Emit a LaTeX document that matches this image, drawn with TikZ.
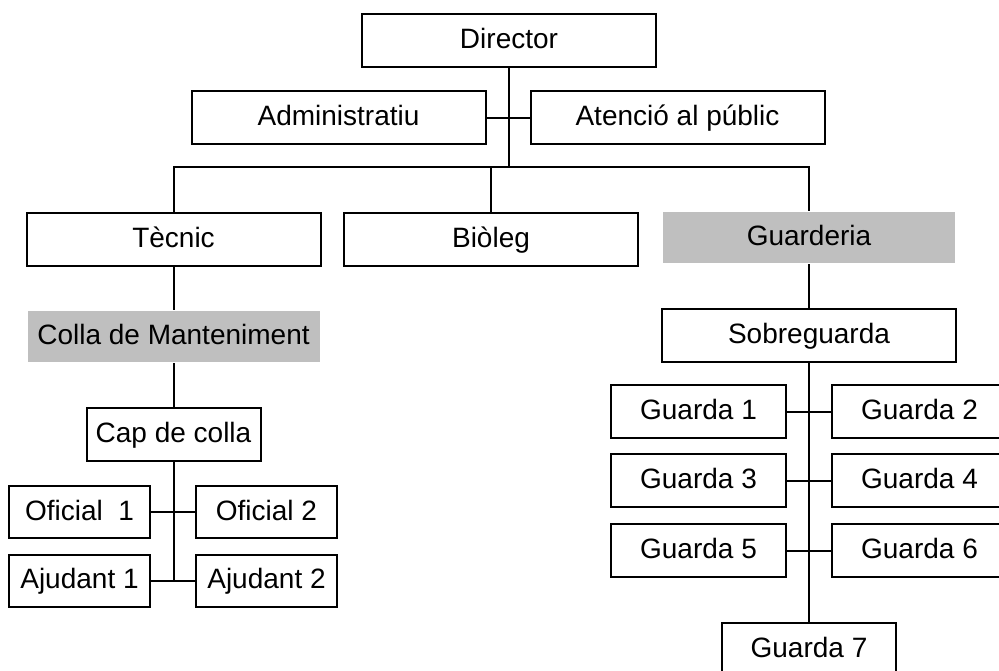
\documentclass[tikz,border=0pt]{standalone}
\usepackage{fontspec}
\setmainfont{Liberation Sans}
\usepackage{tikz}

\begin{document}
\begin{tikzpicture}[x=1pt,y=-1pt,line width=2pt,
    font=\fontsize{28}{34}\selectfont,
    every node/.style={text height=21pt,text depth=5pt},
    box/.style={draw,inner sep=0pt,minimum width=294pt,minimum height=53pt},
    grey/.style={fill=black!25,inner sep=0pt,minimum width=292pt,minimum height=51pt},
    small/.style={box,minimum width=174pt},
    tiny/.style={box,minimum width=141pt,minimum height=52pt}]

  \clip (0,0) rectangle (999,670);

  \node[box] (dir) at (509,40) {Director};
  \node[box] (adm) at (338.5,117.5) {Administratiu};
  \node[box] (ate) at (677.5,117.5) {Atenció al públic};
  \coordinate (hub) at (509,167);

  \node[box] (tec) at (173.5,239) {Tècnic};
  \node[box] (bio) at (491,239) {Biòleg};
  \node[grey] (gua) at (809,237.5) {Guarderia};

  \node[grey] (colla) at (173.5,336.5) {Colla de Manteniment};
  \node[small] (cap) at (173.5,434.5) {Cap de colla};
  \node[tiny] (of1) at (79.5,512) {Oficial \ 1};
  \node[tiny] (of2) at (266.5,512) {Oficial 2};
  \node[tiny] (aj1) at (79.5,580.5) {Ajudant 1};
  \node[tiny] (aj2) at (266.5,580.5) {Ajudant 2};
  \coordinate (capend) at (173.5,581);

  \node[box] (sob) at (809,335) {Sobreguarda};
  \node[small,minimum width=175pt] (g1) at (698.5,411.5) {Guarda 1};
  \node[small,minimum width=175pt] (g2) at (919.5,411.5) {Guarda 2};
  \node[small,minimum width=175pt] (g3) at (698.5,480.5) {Guarda 3};
  \node[small,minimum width=175pt] (g4) at (919.5,480.5) {Guarda 4};
  \node[small,minimum width=175pt] (g5) at (698.5,550.5) {Guarda 5};
  \node[small,minimum width=175pt] (g6) at (919.5,550.5) {Guarda 6};
  \node[small] (g7) at (809,649.5) {Guarda 7};

  \draw (dir) -- (hub);
  \draw (adm) -- (ate);
  \draw (tec.north) |- (hub) -| (gua.north);
  \draw (bio.north) -- (bio.north |- hub);

  \draw (tec) -- (colla);
  \draw (colla) -- (cap);
  \draw (cap) -- (capend);
  \draw (of1) -- (of2);
  \draw (aj1) -- (aj2);

  \draw (gua) -- (sob);
  \draw (sob) -- (g7);
  \draw (g1) -- (g2);
  \draw (g3) -- (g4);
  \draw (g5) -- (g6);

\end{tikzpicture}
\end{document}
